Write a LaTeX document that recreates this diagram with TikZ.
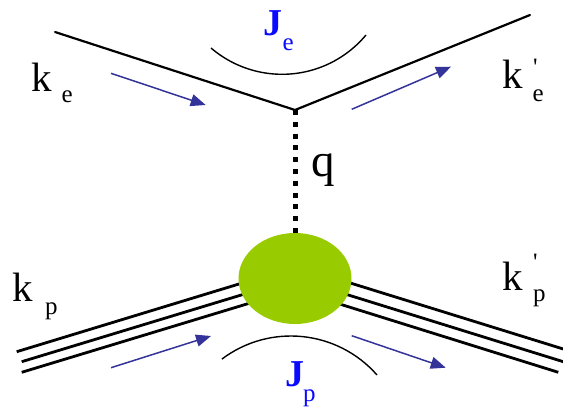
\documentclass[tikz,border=0pt]{standalone}
\usepackage{fontspec}
\setmainfont{Liberation Serif}
\usetikzlibrary{arrows.meta,shapes.geometric}
\definecolor{arrowblue}{RGB}{51,51,153}
\definecolor{labelblue}{RGB}{10,10,255}
\definecolor{blobgreen}{RGB}{153,204,0}
\tikzset{
  lepton/.style={line width=2.2pt, line cap=round},
  hadron/.style={line width=2.8pt},
  current/.style={line width=1.4pt},
  flow/.style={arrowblue, line width=1.5pt, -{Triangle[length=15pt,width=12pt]}},
  photon/.style={line width=5pt, dash pattern=on 5pt off 6.8pt},
  big/.style={inner sep=0pt, anchor=base west, font=\fontsize{41}{41}\selectfont},
  sub/.style={inner sep=0pt, anchor=base west, font=\fontsize{25}{25}\selectfont},
  bigJ/.style={inner sep=0pt, anchor=base west, text=labelblue, font=\fontsize{38}{38}\selectfont\bfseries},
  subJ/.style={inner sep=0pt, anchor=base west, text=labelblue, font=\fontsize{25}{25}\selectfont},
}
\begin{document}
\begin{tikzpicture}[x=1pt,y=1pt]
\useasboundingbox (0,0) rectangle (563,-408);
% vertices
\coordinate (ein) at (55,-32);
\coordinate (v) at (295,-110);
\coordinate (eout) at (530,-15);
\coordinate (btop) at (295,-233);
% electron lines
\draw[lepton] (ein) -- (v) -- (eout);
% photon
\draw[photon] (v) -- (btop);
% proton lines (left)
\coordinate (pl1a) at (16.7,-351.7); \coordinate (pl1b) at (260,-277.6);
\coordinate (pl2a) at (21.7,-361.7); \coordinate (pl2b) at (260,-289.3);
\coordinate (pl3a) at (21.7,-372.3); \coordinate (pl3b) at (260,-300);
\draw[hadron] (pl1a) -- (pl1b);
\draw[hadron] (pl2a) -- (pl2b);
\draw[hadron] (pl3a) -- (pl3b);
% proton lines (right)
\coordinate (pr1a) at (330,-276.7); \coordinate (pr1b) at (563.3,-349);
\coordinate (pr2a) at (330,-289.3); \coordinate (pr2b) at (563.3,-361.7);
\coordinate (pr3a) at (330,-301); \coordinate (pr3b) at (558.3,-372.3);
\draw[hadron] (pr1a) -- (pr1b);
\draw[hadron] (pr2a) -- (pr2b);
\draw[hadron] (pr3a) -- (pr3b);
% blob
\node[ellipse, fill=blobgreen, minimum width=113pt, minimum height=91pt, inner sep=0pt, draw=none] (blob) at (295,-278.5) {};
% current arcs
\draw[current] (282.1,34.9) ++(229.4:109.2) arc[start angle=229.4, end angle=320.2, radius=109.2];
\draw[current] (290.9,-450.6) ++(127:114.6) arc[start angle=127, end angle=41.3, radius=114.6];
% momentum flow arrows
\coordinate (a1s) at (111,-73.3); \coordinate (a1e) at (205.7,-105);
\coordinate (a2s) at (351.7,-109.3); \coordinate (a2e) at (451,-66.7);
\coordinate (a3s) at (111,-367.7); \coordinate (a3e) at (211,-336);
\coordinate (a4s) at (351.7,-335.7); \coordinate (a4e) at (445.7,-367.7);
\draw[flow] (a1s) -- (a1e);
\draw[flow] (a2s) -- (a2e);
\draw[flow] (a3s) -- (a3e);
\draw[flow] (a4s) -- (a4e);
% labels
\node[big] (ke) at (31.7,-91) {k};
\node[sub] (kes) at (61.4,-102) {e};
\node[big] (kep) at (502.7,-88) {k};
\node[sub] (keps) at (532.5,-101) {\rlap{\hspace{0.5pt}\raisebox{25.5pt}{\textquotesingle}}e};
\node[big, font=\fontsize{47}{47}\selectfont] (q) at (311.4,-176.6) {q};
\node[big] (kp) at (12.7,-301) {k};
\node[sub] (kps) at (45,-314.5) {p};
\node[big] (kpp) at (502.7,-290) {k};
\node[sub] (kpps) at (533,-301.5) {\rlap{\raisebox{31.5pt}{\textquotesingle}}p};
\node[bigJ] (Je) at (263,-35.5) {J};
\node[subJ] (Jes) at (282.5,-50) {e};
\node[bigJ] (Jp) at (285,-386) {J};
\node[subJ] (Jps) at (303,-401.5) {p};
\end{tikzpicture}
\end{document}
